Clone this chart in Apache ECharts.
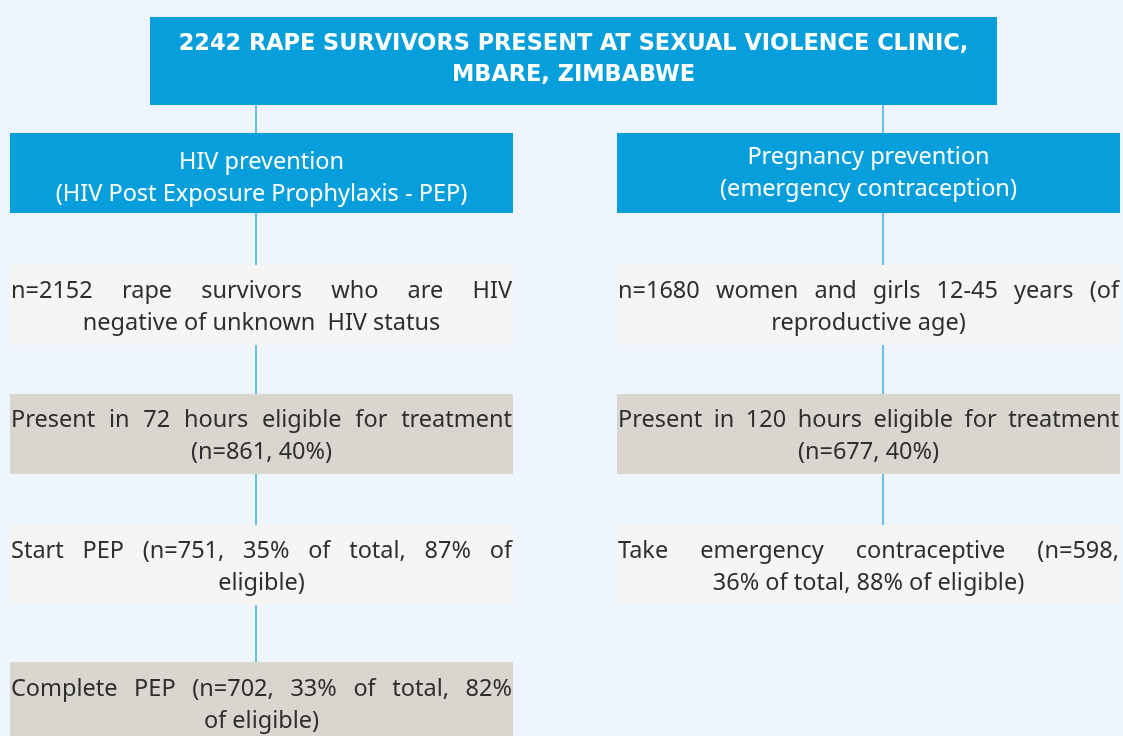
<!DOCTYPE html>
<html>
<head>
<meta charset="utf-8">
<title>Sexual violence clinic flowchart</title>
<script src="https://cdn.jsdelivr.net/npm/echarts@6/dist/echarts.min.js"></script>
<style>
    html, body { margin: 0; padding: 0; background: #eef5fc; }
    #main { width: 1123px; height: 736px; }
</style>
</head>
<body>
<div id="main"></div>
<script>
    // text of the boxes
    var titleLines = ['2242 RAPE SURVIVORS PRESENT AT SEXUAL VIOLENCE CLINIC,', 'MBARE, ZIMBABWE'];
    var hivSteps = [
        ['HIV prevention', '(HIV Post Exposure Prophylaxis - PEP)'],
        ['n=2152 rape survivors who are HIV', 'negative of unknown  HIV status'],
        ['Present in 72 hours eligible for treatment', '(n=861, 40%)'],
        ['Start PEP (n=751, 35% of total, 87% of', 'eligible)'],
        ['Complete PEP (n=702, 33% of total, 82%', 'of eligible)']
    ];
    var pregSteps = [
        ['Pregnancy prevention', '(emergency contraception)'],
        ['n=1680 women and girls 12-45 years (of', 'reproductive age)'],
        ['Present in 120 hours eligible for treatment', '(n=677, 40%)'],
        ['Take emergency contraceptive (n=598,', '36% of total, 88% of eligible)']
    ];

    // layout
    var titleBox = [150, 17, 997, 105];
    var colX = [[10, 513], [617, 1120]];
    var rowY = [[133, 213], [265, 345], [394, 474], [525, 605], [662, 746]];
    var lineX = [256, 883];
    var bodyFont = '"Noto Sans", sans-serif';
    var titleFont = '"DejaVu Sans", sans-serif';
    var bodySize = 23.5;

    var ctx = document.createElement('canvas').getContext('2d');
    function measure(txt, size, weight, family) {
        ctx.font = (weight || 'normal') + ' ' + size + 'px ' + (family || bodyFont);
        return ctx.measureText(txt).width;
    }
    var titleSize = Math.min(23, 100 * 790 / measure(titleLines[0], 100, 'bold', titleFont));

    var elements = [];

    function addText(x, y, txt, size, color, weight, align, family) {
        elements.push({
            type: 'text', x: x, y: y, silent: true,
            style: {
                text: txt, fill: color, font: (weight || 'normal') + ' ' + size + 'px ' + (family || bodyFont),
                textAlign: align || 'center', textVerticalAlign: 'middle'
            }
        });
    }

    function addJustified(x0, x1, y, txt, size, color) {
        var words = txt.split(/\s+/);
        var widths = words.map(function (w) { return measure(w, size); });
        var sum = widths.reduce(function (a, b) { return a + b; }, 0);
        var gap = (x1 - x0 - sum) / (words.length - 1);
        var x = x0;
        words.forEach(function (w, i) {
            addText(x, y, w, size, color, 'normal', 'left');
            x += widths[i] + gap;
        });
    }

    function addLine(x, y0, y1) {
        elements.push({
            type: 'line', silent: true,
            shape: { x1: x, y1: y0, x2: x, y2: y1 },
            style: { stroke: '#3fadde', lineWidth: 1.5 }
        });
    }

    // title box
    elements.push({
        type: 'rect', silent: true,
        shape: { x: titleBox[0], y: titleBox[1], width: titleBox[2] - titleBox[0], height: titleBox[3] - titleBox[1] },
        style: { fill: '#079fdb' }
    });
    var tcy = (titleBox[1] + titleBox[3]) / 2 - 1;
    titleLines.forEach(function (t, i) {
        addText((titleBox[0] + titleBox[2]) / 2, tcy + (i - (titleLines.length - 1) / 2) * 31, t, titleSize, '#ffffff', 'bold', 'center', titleFont);
    });

    [hivSteps, pregSteps].forEach(function (steps, c) {
        var bx0 = colX[c][0], bx1 = colX[c][1];
        addLine(lineX[c], titleBox[3], rowY[0][0]);
        steps.forEach(function (lines, r) {
            var y0 = rowY[r][0], y1 = rowY[r][1];
            if (r > 0) addLine(lineX[c], rowY[r - 1][1], y0);
            var fill = r === 0 ? '#079fdb' : (r % 2 === 1 ? '#f5f5f3' : '#d9d5cf');
            elements.push({
                type: 'rect', silent: true,
                shape: { x: bx0, y: y0, width: bx1 - bx0, height: y1 - y0 },
                style: { fill: fill }
            });
            var color = r === 0 ? '#ffffff' : '#2e2e2e';
            var cy = r === 4 ? 705.5 : (y0 + y1) / 2 + (r === 0 ? (c === 1 ? 0 : 5) : 2.5);
            lines.forEach(function (t, i) {
                var y = cy + (i - (lines.length - 1) / 2) * 32;
                if (r > 0 && i < lines.length - 1) {
                    addJustified(bx0 + 1, bx1 - 1, y, t, bodySize, color);
                } else {
                    addText((bx0 + bx1) / 2, y, t, bodySize, color);
                }
            });
        });
    });

    var myChart = echarts.init(document.getElementById('main'));
    myChart.setOption({
        backgroundColor: '#eef5fc',
        graphic: { elements: elements }
    });
</script>
</body>
</html>
